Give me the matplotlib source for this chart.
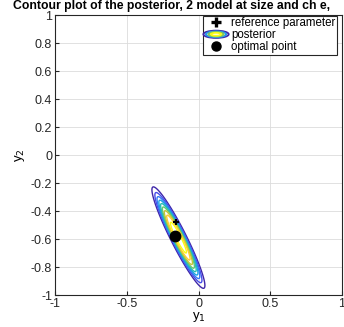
import numpy as np
import matplotlib
matplotlib.use('Agg')
import matplotlib.pyplot as plt
from matplotlib.colors import LinearSegmentedColormap
from matplotlib.legend_handler import HandlerBase
from matplotlib.patches import Ellipse
from matplotlib.lines import Line2D

plt.rcParams['font.family'] = ['Liberation Sans', 'DejaVu Sans']

# posterior shape
post_mean = [-0.14, -0.59]
post_sigma = [0.25, 0.034]      # major, minor
post_angle = -63.8              # degrees
post_power = 1.6                # flat-topped posterior
ref_param = [-0.155, -0.475]
opt_point = [-0.165, -0.575]

x_ticks = [-1, -0.5, 0, 0.5, 1]
y_ticks = [-1, -0.8, -0.6, -0.4, -0.2, 0, 0.2, 0.4, 0.6, 0.8, 1]
x_labels = ['-1', '-0.5', '0', '0.5', '1']
y_labels = ['-1', '-0.8', '-0.6', '-0.4', '-0.2', '0', '0.2', '0.4', '0.6', '0.8', '1']

parula = LinearSegmentedColormap.from_list('parula', [
    (0.2422, 0.1504, 0.6603), (0.2810, 0.3228, 0.9579), (0.1786, 0.5289, 0.9682),
    (0.0689, 0.6948, 0.8394), (0.2161, 0.7843, 0.5923), (0.6720, 0.7793, 0.2227),
    (0.9970, 0.7659, 0.2199), (0.9769, 0.9839, 0.0805)])

g = np.linspace(-1, 1, 600)
X, Y = np.meshgrid(g, g)
a = np.deg2rad(post_angle)
u = (X - post_mean[0]) * np.cos(a) + (Y - post_mean[1]) * np.sin(a)
v = -(X - post_mean[0]) * np.sin(a) + (Y - post_mean[1]) * np.cos(a)
Z = np.exp(-0.5 * ((u / post_sigma[0])**2 + (v / post_sigma[1])**2) ** post_power)


class EllipseHandler(HandlerBase):
    def create_artists(self, legend, orig, xd, yd, w, h, fontsize, trans):
        cx, cy = xd + w / 2, yd + h / 2
        arts = []
        for i, s in enumerate([1.0, 0.8, 0.6, 0.4]):
            e = Ellipse((cx, cy), w * 1.1 * s, h * 0.9 * s, fill=False,
                        edgecolor=parula(i / 3), lw=1.3, transform=trans)
            arts.append(e)
        return arts


fig = plt.figure(figsize=(3.44, 3.27), dpi=100)
ax = fig.add_axes([55 / 344, 32 / 327, 287 / 344, 280 / 327])

ax.contour(X, Y, Z, levels=np.linspace(0.1, 0.95, 9), cmap=parula, linewidths=1)
ax.plot(ref_param[0], ref_param[1], '+', color='k', ms=4, mew=1.6, zorder=5)
ax.plot(opt_point[0], opt_point[1], 'o', color='k', ms=7.5, zorder=6)

ax.set_xlim(-1, 1)
ax.set_ylim(-1, 1)
ax.set_xticks(x_ticks)
ax.set_xticklabels(x_labels)
ax.set_yticks(y_ticks)
ax.set_yticklabels(y_labels)
ax.tick_params(direction='in', labelsize=9, length=3, colors='#262626', pad=2)
ax.grid(True, color='#dcdcdc', lw=0.6)
ax.set_axisbelow(True)
for s in ax.spines.values():
    s.set_color('#262626')
    s.set_linewidth(0.8)
ax.set_xlabel('y$_1$', fontsize=9.5, labelpad=0)
ax.set_ylabel('y$_2$', fontsize=9.5, labelpad=3)

post_h = Line2D([], [])
handles = [Line2D([], [], marker='+', ls='', color='k', ms=7, mew=2.4),
           post_h,
           Line2D([], [], marker='o', ls='', color='k', ms=6.5)]
leg = ax.legend(handles, ['reference parameter', 'posterior', 'optimal point'],
                loc='upper right', bbox_to_anchor=(0.985, 1.0), fontsize=8.3,
                handler_map={post_h: EllipseHandler()}, frameon=True, fancybox=False,
                edgecolor='#262626', framealpha=1, borderpad=0.15, labelspacing=0.0,
                handlelength=2.0, handletextpad=0.3, borderaxespad=0.05)
leg.get_frame().set_linewidth(0.8)

fig.text(0.5, 1 - 9 / 327, 'Contour plot of the posterior, 2 model at size and ch e,',
         ha='center', va='baseline', fontsize=8.8, fontweight='bold')

fig.savefig('out.png', dpi=100)
